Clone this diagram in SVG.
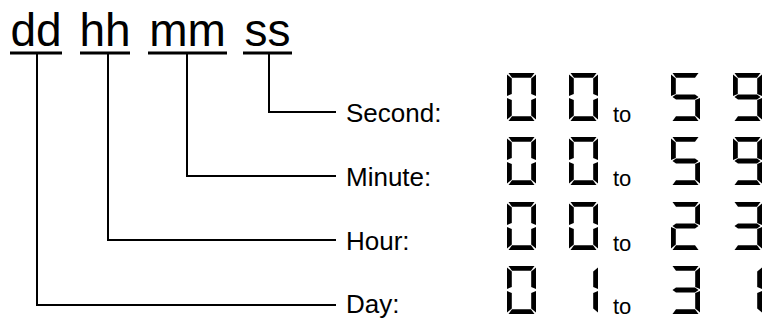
<svg xmlns="http://www.w3.org/2000/svg" xmlns:xlink="http://www.w3.org/1999/xlink" width="762" height="320" viewBox="0 0 762 320">
<style>
.fmt{font-family:"Liberation Sans",Arial,sans-serif;font-size:46px;fill:#000;text-anchor:middle}
.lbl{font-family:"Liberation Sans",Arial,sans-serif;font-size:26px;fill:#000}
.to{font-family:"Liberation Sans",Arial,sans-serif;font-size:22px;fill:#000}
.ul{stroke:#000;stroke-width:3;fill:none}
.cn{stroke:#000;stroke-width:2;fill:none;stroke-linecap:square}
.seg{fill:#000}
</style>
<defs>
<polygon id="sa" class="seg" points="1.5,0 27.5,0 24,4.8 5,4.8"/>
<polygon id="sf" class="seg" points="0,1.5 4.8,5.5 4.8,21 0,23"/>
<polygon id="sb" class="seg" points="29,1.5 29,23 24.2,21 24.2,5.5"/>
<polygon id="sg" class="seg" points="1.5,24 5,21.6 24,21.6 27.5,24 24,26.4 5,26.4"/>
<polygon id="se" class="seg" points="0,25 4.8,27 4.8,42.5 0,46.5"/>
<polygon id="sc" class="seg" points="29,25 29,46.5 24.2,42.5 24.2,27"/>
<polygon id="sd" class="seg" points="1.5,48 5,43.2 24,43.2 27.5,48"/>
<g id="d0"><use xlink:href="#sa"/><use xlink:href="#sb"/><use xlink:href="#sc"/><use xlink:href="#sd"/><use xlink:href="#se"/><use xlink:href="#sf"/></g>
<g id="d1"><use xlink:href="#sb"/><use xlink:href="#sc"/></g>
<g id="d2"><use xlink:href="#sa"/><use xlink:href="#sb"/><use xlink:href="#sg"/><use xlink:href="#se"/><use xlink:href="#sd"/></g>
<g id="d3"><use xlink:href="#sa"/><use xlink:href="#sb"/><use xlink:href="#sg"/><use xlink:href="#sc"/><use xlink:href="#sd"/></g>
<g id="d5"><use xlink:href="#sa"/><use xlink:href="#sf"/><use xlink:href="#sg"/><use xlink:href="#sc"/><use xlink:href="#sd"/></g>
<g id="d9"><use xlink:href="#sa"/><use xlink:href="#sb"/><use xlink:href="#sf"/><use xlink:href="#sg"/><use xlink:href="#sc"/><use xlink:href="#sd"/></g>
</defs>
<rect width="762" height="320" fill="#fff"/>

<g id="field-dd"><text class="fmt" x="36" y="46">dd</text><line class="ul" x1="10" y1="53" x2="62" y2="53"/></g>
<g id="field-hh"><text class="fmt" x="105" y="46">hh</text><line class="ul" x1="80" y1="53" x2="130" y2="53"/></g>
<g id="field-mm"><text class="fmt" x="187.5" y="46">mm</text><line class="ul" x1="148" y1="53" x2="227" y2="53"/></g>
<g id="field-ss"><text class="fmt" x="267.5" y="46">ss</text><line class="ul" x1="243" y1="53" x2="292" y2="53"/></g>

<g id="connectors">
<polyline class="cn" points="269,54 269,112 335,112"/>
<polyline class="cn" points="187,54 187,176 335,176"/>
<polyline class="cn" points="108,54 108,240 335,240"/>
<polyline class="cn" points="37,54 37,305 335,305"/>
</g>

<g id="label-second"><text class="lbl" x="346" y="122">Second:</text></g>
<g id="label-minute"><text class="lbl" x="346" y="186">Minute:</text></g>
<g id="label-hour"><text class="lbl" x="346" y="250">Hour:</text></g>
<g id="label-day"><text class="lbl" x="346" y="313">Day:</text></g>

<g id="range-second">
<use xlink:href="#d0" x="507" y="73"/><use xlink:href="#d0" x="569" y="73"/>
<text class="to" x="613" y="122">to</text>
<use xlink:href="#d5" x="671" y="73"/><use xlink:href="#d9" x="733" y="73"/>
</g>
<g id="range-minute">
<use xlink:href="#d0" x="507" y="137"/><use xlink:href="#d0" x="569" y="137"/>
<text class="to" x="613" y="186">to</text>
<use xlink:href="#d5" x="671" y="137"/><use xlink:href="#d9" x="733" y="137"/>
</g>
<g id="range-hour">
<use xlink:href="#d0" x="507" y="202"/><use xlink:href="#d0" x="569" y="202"/>
<text class="to" x="613" y="251">to</text>
<use xlink:href="#d2" x="671" y="202"/><use xlink:href="#d3" x="733" y="202"/>
</g>
<g id="range-day">
<use xlink:href="#d0" x="507" y="266"/><use xlink:href="#d1" x="569" y="266"/>
<text class="to" x="613" y="314">to</text>
<use xlink:href="#d3" x="671" y="266"/><use xlink:href="#d1" x="733" y="266"/>
</g>
</svg>
